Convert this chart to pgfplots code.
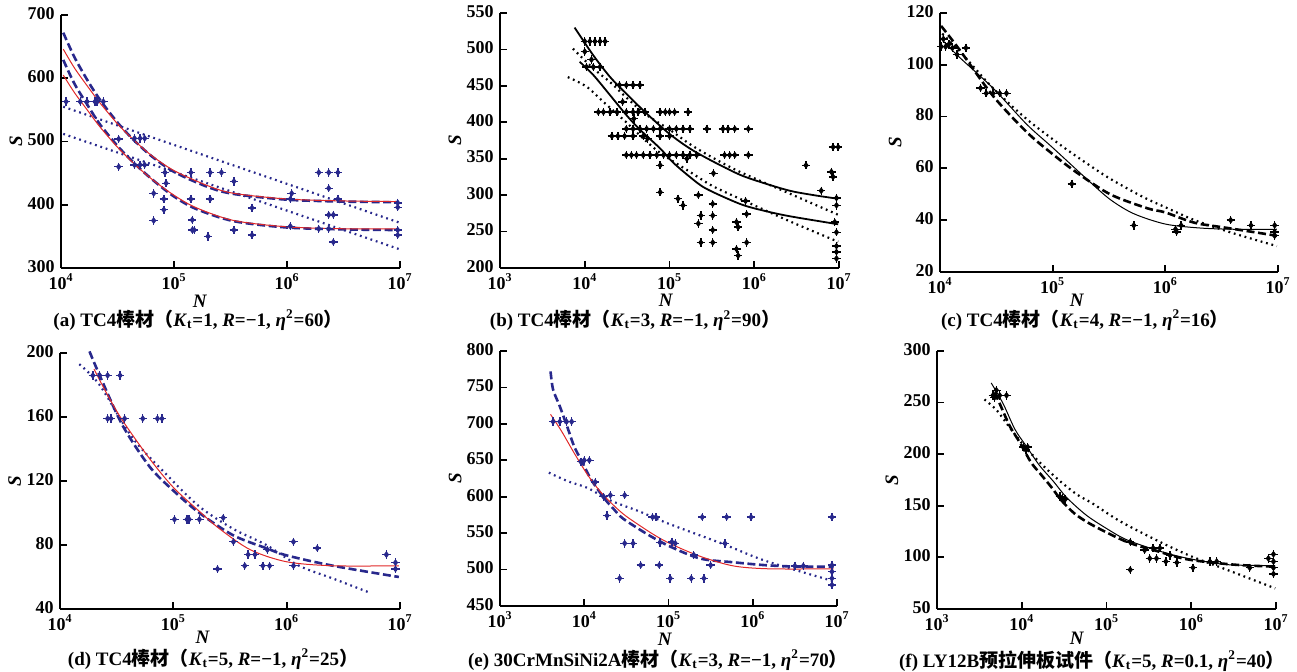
\documentclass[border=0pt]{standalone}
\usepackage{fontspec}
\setmainfont{Liberation Serif}
\newfontfamily\cjk{Noto Sans CJK SC}
\usepackage{pgfplots}
\usepackage{pgfplotstable}
\pgfplotsset{compat=1.18}
\definecolor{navy}{RGB}{40,40,140}
\definecolor{fitred}{RGB}{225,40,40}
\pgfplotsset{
 myaxis/.style={scale only axis, axis lines=left,
   axis line style={line width=1.1pt,-}, tick align=inside,
   major tick length=3.5pt, every tick/.style={black,line width=0.9pt},
   xminorticks=false, yminorticks=false,
   ticklabel style={font=\fontsize{9}{10}\selectfont\bfseries},
   xticklabel style={inner sep=0pt, yshift=-2.6pt},
   yticklabel style={inner sep=0pt, xshift=-3pt, yshift=0.8pt},
   /pgf/number format/assume math mode=true,
   xtick={1e3,1e4,1e5,1e6,1e7},
   xticklabels={10\textsuperscript{3},10\textsuperscript{4},10\textsuperscript{5},10\textsuperscript{6},10\textsuperscript{7}},
   xmax=1e7,
   ylabel={\textbf{\textit{S}}}, xlabel={\textbf{\textit{N}}},
   label style={font=\fontsize{9.5}{10}\selectfont, inner sep=0pt},
   ylabel style={at={(axis description cs:-0.133,0.5)},anchor=center},
   clip=false},
 pd/.style={only marks, mark=diamond*, mark size=1.4pt, color=#1},
 pp/.style={only marks, mark=+, mark size=2.1pt, mark options={line width=0.7pt}, color=#1},
 dsh/.style={color=#1, line width=1.3pt, dash pattern=on 4pt off 1.8pt, smooth, no marks},
 dotl/.style={color=#1, line width=1.1pt, dash pattern=on 0.9pt off 1.9pt, smooth, no marks},
 rd/.style={fitred, line width=0.5pt, smooth, no marks},
 soll/.style={black, line width=#1, smooth, no marks},
}
\pgfplotstableread{
N S
1.11e4 563
1.48e4 563
1.70e4 563
2.00e4 563
2.09e4 563
2.37e4 563
3.24e4 504
4.47e4 505
5.01e4 505
5.50e4 505
3.24e4 460
4.47e4 463
5.01e4 463
5.50e4 463
6.61e4 418
6.61e4 375
8.13e4 409
8.13e4 392
8.51e4 434
8.32e4 451
1.41e5 451
1.41e5 409
1.45e5 360
1.45e5 376
1.51e5 360
2.09e5 451
2.09e5 409
2.00e5 350
2.63e5 451
3.39e5 437
3.39e5 360
4.90e5 395
4.90e5 352
1.07e6 409
1.10e6 418
1.07e6 366
1.91e6 451
2.34e6 451
2.82e6 451
2.34e6 426
2.34e6 384
2.57e6 384
2.57e6 341
2.82e6 409
1.91e6 362
2.34e6 362
9.55e6 403
9.55e6 396
9.55e6 360
9.55e6 352
}\dA
\pgfplotstableread{
N S
1.0e4 511
1.148e4 511
1.318e4 511
1.514e4 511
1.738e4 511
1.047e4 476
1.259e4 476
1.514e4 476
2.570e4 451
3.090e4 451
3.715e4 451
4.467e4 451
1.445e4 414
1.660e4 414
1.995e4 414
2.399e4 414
3.090e4 414
3.715e4 414
4.266e4 414
5.129e4 414
7.762e4 414
8.913e4 414
1.0e5 414
1.148e5 414
1.660e5 414
3.090e4 391
3.715e4 391
4.467e4 391
5.370e4 391
6.457e4 391
7.762e4 391
1.0e5 391
1.202e5 391
1.445e5 391
1.738e5 391
2.754e5 391
4.266e5 391
4.898e5 391
5.888e5 391
8.511e5 391
2.089e4 381
2.455e4 381
2.951e4 381
3.715e4 381
4.898e4 381
7.762e4 381
1.0e5 381
3.090e4 355
3.548e4 355
4.074e4 355
4.898e4 355
5.888e4 355
7.079e4 355
8.511e4 355
1.0e5 355
1.202e5 355
1.445e5 355
1.738e5 355
2.089e5 355
4.467e5 355
5.129e5 355
5.888e5 355
8.511e5 355
7.762e4 341
4.074e6 341
7.762e4 304
1.259e5 295
1.445e5 286
2.188e5 300
3.236e5 288
2.344e5 272
3.236e5 272
2.188e5 261
3.236e5 252
2.344e5 235
3.236e5 235
6.166e5 263
6.457e5 256
8.128e5 235
6.166e5 226
6.457e5 217
8.128e5 274
8.511e6 366
9.772e6 366
8.128e6 332
8.511e6 325
9.333e6 286
8.913e6 263
9.333e6 249
9.333e6 230
9.333e6 222
9.333e6 213
9.333e6 296
6.166e6 306
1.0e4 497
1.2e4 486
2.8e4 428
3.8e4 405
5.5e4 378
1.6e5 350
3.3e5 330
7.9e5 292
}\dB
\pgfplotstableread{
N S
1.023e4 107
1.122e4 107
1.288e4 106.5
1.698e4 106.5
1.413e4 104
2.570e4 89
2.951e4 89
3.388e4 89
3.890e4 89
2.291e4 91
1.479e5 54
5.248e5 38
1.230e6 36.5
1.380e6 38
3.802e6 40
5.754e6 38
9.333e6 38
9.333e6 35.5
9.333e6 34
1.259e6 35.5
1.072e4 110
1.202e4 108
}\dC
\pgfplotstableread{
N S
1.950e4 186
2.239e4 186
2.630e4 186
3.388e4 186
2.630e4 159
2.818e4 159
3.715e4 159
5.370e4 159
7.244e4 159
7.943e4 159
1.023e5 96
1.318e5 96
1.380e5 96
1.698e5 96
2.455e5 65
2.754e5 97
3.388e5 82
4.266e5 67
4.571e5 74
6.166e5 67
7.079e5 67
1.148e6 82
1.148e6 67
1.862e6 78
7.586e6 74
9.120e6 69
9.120e6 65
5.248e5 74
6.761e5 77
}\dD
\pgfplotstableread{
N S
4.266e3 703
5.129e3 703
6.166e3 703
7.079e3 703
1.0e4 650
1.148e4 650
2.042e4 602
3.020e4 602
1.862e4 574
2.630e4 488
3.020e4 536
3.802e4 536
4.677e4 506
6.457e4 572
7.079e4 572
7.762e4 506
1.047e5 488
1.096e5 538
1.202e5 536
1.862e5 488
2.512e5 572
2.630e5 488
3.162e5 506
4.898e5 572
4.677e5 536
9.550e5 572
8.710e6 572
8.710e6 506
8.710e6 497
8.710e6 488
8.710e6 479
9.120e3 648
1.349e4 620
1.698e4 600
7.943e4 537
1.995e5 520
3.162e6 505
3.981e6 505
}\dE
\pgfplotstableread{
N S
4.571e3 257
5.495e3 257
6.607e3 257
5.012e3 262
4.786e3 255
1.047e4 207
1.175e4 207
1.122e4 204
2.818e4 159
3.236e4 156
3.020e4 157
1.905e5 115
1.905e5 88
3.548e5 109
4.266e5 109
3.236e5 99
3.890e5 99
5.623e5 102
6.761e5 95
1.047e6 90
1.660e6 96
1.995e6 96
4.898e6 90
9.333e6 103
9.333e6 96
9.333e6 90
9.333e6 84
8.128e6 99
2.818e5 107
5.012e5 96
}\dF
\begin{document}
\begin{tikzpicture}
\path[use as bounding box] (0,0) rectangle (648.5pt,336pt);
% (a)
\begin{semilogxaxis}[myaxis, at={(30.5pt,202pt)}, anchor=south west, width=169.5pt, height=126.5pt,
  xmin=1e4, ymin=300, ymax=700, ytick={300,400,500,600,700},
  xlabel style={at={(axis description cs:0.41,-0.13)},anchor=center}]
\addplot[pd=navy] table {\dA};
\addplot[pp=navy] table {\dA};
\addplot[dotl=navy] coordinates {(1.047e4,555) (9.772e6,372)};
\addplot[dotl=navy] coordinates {(1.047e4,512) (9.772e6,330)};
\addplot[dsh=navy] coordinates {(1.047e4,672) (1.318e4,633) (1.738e4,595) (2.213e4,566) (3.162e4,530) (4.365e4,503) (6.310e4,477) (1e5,452) (1.995e5,428) (3.388e5,417) (1e6,408) (3.162e6,405) (9.772e6,404)};
\addplot[dsh=navy] coordinates {(1.047e4,629) (1.318e4,591) (1.738e4,556) (2.213e4,527) (3.162e4,493) (4.365e4,467) (6.310e4,441) (1e5,413) (1.585e5,393) (3.388e5,374) (1e6,364) (3.162e6,361) (9.772e6,360)};
\addplot[rd] coordinates {(1.047e4,646) (1.318e4,616) (1.738e4,586) (2.213e4,561) (3.162e4,528) (4.365e4,503) (6.310e4,478) (1e5,454) (1.995e5,430) (3.388e5,418) (1e6,409) (3.162e6,406) (9.772e6,405)};
\addplot[rd] coordinates {(1.047e4,605) (1.318e4,577) (1.738e4,548) (2.213e4,523) (3.162e4,491) (4.365e4,466) (6.310e4,441) (1e5,415) (1.585e5,395) (3.388e5,375) (1e6,365) (3.162e6,362) (9.772e6,362)};
\end{semilogxaxis}
% (b)
\begin{semilogxaxis}[myaxis, at={(250pt,202pt)}, anchor=south west, width=169.5pt, height=127.5pt,
  xmin=1e3, ymin=200, ymax=550, ytick={200,250,...,550},
  xlabel style={at={(axis description cs:0.49,-0.126)},anchor=center}]
\addplot[pd=black] table {\dB};
\addplot[pp=black] table {\dB};
\addplot[soll=0.9pt] coordinates {(7.586e3,530) (1.259e4,492) (1.995e4,462) (3.162e4,438) (5.370e4,412) (1e5,384) (1.738e5,364) (3.162e5,347) (6.761e5,328) (1.259e6,317) (2.630e6,306) (5.012e6,300) (9.772e6,295)};
\addplot[soll=0.9pt] coordinates {(8.710e3,483) (1.259e4,465) (1.995e4,437) (3.090e4,410) (4.467e4,390) (7.762e4,364) (1.096e5,345) (1.738e5,325) (2.692e5,309) (6.761e5,288) (1.259e6,279) (2.630e6,271) (9.772e6,260)};
\addplot[dotl=black] coordinates {(7.244e3,501) (1.259e4,474) (1.995e4,455) (3.162e4,433) (5.370e4,410) (1e5,390) (1.738e5,370) (3.162e5,352) (6.761e5,332) (2.630e6,302) (9.772e6,273)};
\addplot[dotl=black] coordinates {(6.310e3,462) (1.047e4,449) (1.660e4,428) (3.090e4,400) (4.467e4,382) (7.762e4,358) (1.738e5,332) (3.162e5,313) (6.761e5,295) (2.630e6,264) (9.772e6,236)};
\end{semilogxaxis}
% (c)
\begin{semilogxaxis}[myaxis, at={(470pt,200pt)}, anchor=south west, width=169pt, height=129.5pt,
  xmin=1e4, ymin=20, ymax=120, ytick={20,40,...,120},
  xlabel style={at={(axis description cs:0.405,-0.11)},anchor=center}]
\addplot[pd=black] table {\dC};
\addplot[pp=black] table {\dC};
\addplot[dsh=black] coordinates {(1.023e4,115) (1.479e4,106) (2.951e4,88) (5.888e4,74) (1e5,65.5) (1.622e5,58.5) (3.236e5,50) (6.918e5,44.6) (1e6,43) (1.820e6,39) (3.548e6,37) (9.772e6,34)};
\addplot[soll=0.5pt] coordinates {(1.023e4,110) (1.479e4,103) (2.951e4,91) (5.888e4,77) (1e5,68) (1.995e5,56) (3.236e5,48) (5.248e5,42.5) (1e6,38.5) (1.995e6,37) (3.981e6,36.5) (9.772e6,36.5)};
\addplot[dotl=black] coordinates {(1.047e4,112) (1.585e4,104) (2.951e4,91) (5.888e4,79) (1.175e5,69) (1.995e5,62) (3.236e5,56) (6.310e5,49) (1e6,45) (1.820e6,40) (3.981e6,35) (9.772e6,30)};
\end{semilogxaxis}
% (d)
\begin{semilogxaxis}[myaxis, at={(30pt,31.5pt)}, anchor=south west, width=170pt, height=128pt,
  xmin=1e4, ymin=40, ymax=200, ytick={40,80,...,200},
  xlabel style={at={(axis description cs:0.42,-0.11)},anchor=center}]
\addplot[pd=navy] table {\dD};
\addplot[pp=navy] table {\dD};
\addplot[dotl=navy] coordinates {(1.479e4,193) (2.239e4,180) (4.365e4,147) (8.710e4,124) (1.698e5,104) (3.388e5,90) (6.607e5,80) (1.288e6,67) (2.570e6,59) (5.495e6,50)};
\addplot[dsh=navy] coordinates {(1.820e4,201) (2.239e4,186) (3.548e4,155) (6.166e4,129) (1e5,114) (1.698e5,100) (3.388e5,86) (6.607e5,78) (1e6,73.5) (2.570e6,67) (9.772e6,60)};
\addplot[rd] coordinates {(1.995e4,190) (2.570e4,175) (3.548e4,158) (6.166e4,134) (1e5,116) (1.698e5,101) (2.570e5,90) (4.786e5,77) (1e6,69.5) (2.570e6,67) (9.772e6,67)};
\end{semilogxaxis}
% (e)
\begin{semilogxaxis}[myaxis, at={(250pt,33pt)}, anchor=south west, width=168.5pt, height=127.5pt,
  xmin=1e3, ymin=450, ymax=800, ytick={450,500,...,800},
  xlabel style={at={(axis description cs:0.49,-0.13)},anchor=center}]
\addplot[pd=navy] table {\dE};
\addplot[pp=navy] table {\dE};
\addplot[dotl=navy] coordinates {(3.802e3,633) (6.457e3,621) (1.096e4,612) (1.862e4,597) (2.884e4,588) (4.467e4,580) (1e5,563) (4.467e5,535) (1.413e6,512) (9.120e6,484)};
\addplot[dsh=navy] coordinates {(3.981e3,772) (4.266e3,747) (5.129e3,724) (6.457e3,692) (7.586e3,669) (9.120e3,651) (1.148e4,628) (1.349e4,615) (1.778e4,596) (2.239e4,583) (2.884e4,570) (5.888e4,547) (1.072e5,531) (2.399e5,515) (5.888e5,510) (1.413e6,506) (3.467e6,504) (9.120e6,504)};
\addplot[rd] coordinates {(3.981e3,713) (5.370e3,690) (7.586e3,660) (1.096e4,630) (1.549e4,607) (2.239e4,588) (3.162e4,573) (6.457e4,549) (1.072e5,535) (2.399e5,518) (5.888e5,505) (1.585e6,501) (9.120e6,501)};
\end{semilogxaxis}
% (f)
\begin{semilogxaxis}[myaxis, at={(468.5pt,31.5pt)}, anchor=south west, width=169.5pt, height=129pt,
  xmin=1e3, ymin=50, ymax=300, ytick={50,100,...,300},
  xlabel style={at={(axis description cs:0.413,-0.114)},anchor=center}]
\addplot[pd=black] table {\dF};
\addplot[pp=black] table {\dF};
\addplot[dotl=black] coordinates {(3.631e3,253) (5.012e3,243) (6.607e3,230) (8.710e3,217) (1.148e4,205) (1.778e4,189) (2.818e4,174) (4.467e4,161) (6.918e4,152) (1.445e5,135) (4.266e5,115) (1e6,101) (2.630e6,88) (9.772e6,70)};
\addplot[dsh=black] coordinates {(4.786e3,260) (5.495e3,249) (7.244e3,227) (9.550e3,211) (1.288e4,192) (1.698e4,180) (2.239e4,168) (2.951e4,155) (4.266e4,142) (6.918e4,131) (1.738e5,115) (3.981e5,106) (9.120e5,98) (3.162e6,93) (9.772e6,91)};
\addplot[soll=0.5pt] coordinates {(4.365e3,269) (6.026e3,249) (8.318e3,224) (1.148e4,207) (1.622e4,189) (2.344e4,174) (3.388e4,158) (5.754e4,141) (1e5,128) (1.738e5,117) (4.266e5,106) (9.120e5,99) (2.630e6,93) (9.772e6,92)};
\end{semilogxaxis}
% captions
\begin{scope}[every node/.style={font=\fontsize{9.5}{11}\selectfont\bfseries, inner sep=0pt}]
\node at (99pt,176pt) {(a) TC4{\cjk 棒材（}\textit{K}\textsubscript{t}=1, \textit{R}=−1, \textit{η}\textsuperscript{2}=60{\cjk ）}};
\node at (317.5pt,175.7pt) {(b) TC4{\cjk 棒材（}\textit{K}\textsubscript{t}=3, \textit{R}=−1, \textit{η}\textsuperscript{2}=90{\cjk ）}};
\node at (542.5pt,176pt) {(c) TC4{\cjk 棒材（}\textit{K}\textsubscript{t}=4, \textit{R}=−1, \textit{η}\textsuperscript{2}=16{\cjk ）}};
\node at (106.5pt,6.5pt) {(d) TC4{\cjk 棒材（}\textit{K}\textsubscript{t}=5, \textit{R}=−1, \textit{η}\textsuperscript{2}=25{\cjk ）}};
\node at (329pt,6pt) {(e) 30CrMnSiNi2A{\cjk 棒材（}\textit{K}\textsubscript{t}=3, \textit{R}=−1, \textit{η}\textsuperscript{2}=70{\cjk ）}};
\node at (546pt,5.5pt) {(f) LY12B{\cjk 预拉伸板试件（}\textit{K}\textsubscript{t}=5, \textit{R}=0.1, \textit{η}\textsuperscript{2}=40{\cjk ）}};
\end{scope}
\end{tikzpicture}
\end{document}
